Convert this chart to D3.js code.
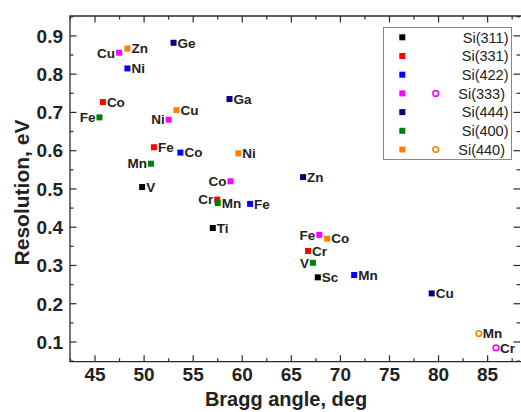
<!DOCTYPE html>
<html>
<head>
<meta charset="utf-8">
<script src="https://cdn.jsdelivr.net/npm/d3@7"></script>
<style>
  html, body { margin: 0; padding: 0; background: #fff; }
  text { font-family: "Liberation Sans", Arial, sans-serif; }
</style>
</head>
<body>
<div id="chart"></div>
<script>
// Resolution vs Bragg angle

// data: [angle (deg), resolution (eV), element]
const si311 = [[49.8, 0.505, "V"], [57.0, 0.398, "Ti"], [67.7, 0.269, "Sc"]];
const si331 = [[45.8, 0.727, "Co"], [51.0, 0.609, "Fe"], [57.45, 0.472, "Cr"], [66.7, 0.338, "Cr"]];
const si422 = [[48.3, 0.815, "Ni"], [53.7, 0.595, "Co"], [60.8, 0.461, "Fe"], [71.4, 0.275, "Mn"]];
const si333 = [[47.45, 0.856, "Cu"], [52.5, 0.681, "Ni"], [58.8, 0.520, "Co"], [67.85, 0.380, "Fe"]];
const si333open = [[85.85, 0.085, "Cr"]];
const si444 = [[53.0, 0.882, "Ge"], [58.7, 0.735, "Ga"], [66.2, 0.531, "Zn"], [79.3, 0.227, "Cu"]];
const si400 = [[45.45, 0.687, "Fe"], [50.7, 0.566, "Mn"], [57.5, 0.463, "Mn"], [67.2, 0.307, "V"]];
const si440 = [[48.3, 0.867, "Zn"], [53.3, 0.706, "Cu"], [59.6, 0.593, "Ni"], [68.65, 0.370, "Co"]];
const si440open = [[84.1, 0.122, "Mn"]];

const seriesNames = ["Si(311)", "Si(331)", "Si(422)", "Si(333)", "Si(444)", "Si(400)", "Si(440)"];
const xTicks = [45, 50, 55, 60, 65, 70, 75, 80, 85];
const yTicks = [0.1, 0.2, 0.3, 0.4, 0.5, 0.6, 0.7, 0.8, 0.9];

const colors = {
  "Si(311)": "#000000",
  "Si(331)": "#ff0000",
  "Si(422)": "#0000ff",
  "Si(333)": "#ff00ff",
  "Si(444)": "#000080",
  "Si(400)": "#008000",
  "Si(440)": "#ff8000",
};

// labels drawn on the left side of their marker
const leftLabels = {
  "Si(333)": ["Cu", "Ni", "Co", "Fe"],
  "Si(400)": ["Fe", "Mn|50.7", "V"],
  "Si(331)": ["Cr|57.45"],
};

const seriesData = [
  { name: "Si(311)", pts: si311, open: [] },
  { name: "Si(331)", pts: si331, open: [] },
  { name: "Si(422)", pts: si422, open: [] },
  { name: "Si(333)", pts: si333, open: si333open },
  { name: "Si(444)", pts: si444, open: [] },
  { name: "Si(400)", pts: si400, open: [] },
  { name: "Si(440)", pts: si440, open: si440open },
];

const W = 521, H = 412;
const plotL = 70, plotT = 16, plotR = 521, plotB = 361.7;

const svg = d3.select("#chart").append("svg")
  .attr("width", W).attr("height", H);

const x = d3.scaleLinear().domain([42.45, 88.4]).range([plotL, plotR]);
const y = d3.scaleLinear().domain([0.0485, 0.952]).range([plotB, plotT]);

const axisColor = "#2a2a2a";
const minorX = d3.range(42.5, 88.5, 2.5);
const minorY = d3.range(0.05, 0.951, 0.05);

// ticks (inward on all four sides)
const frame = svg.append("g");
function tickLen(v, majors) {
  return majors.some(m => Math.abs(m - v) < 1e-6) ? 6.5 : 3.5;
}
minorX.forEach(v => {
  const L = tickLen(v, xTicks);
  frame.append("line").attr("x1", x(v)).attr("x2", x(v))
    .attr("y1", plotB).attr("y2", plotB - L);
  frame.append("line").attr("x1", x(v)).attr("x2", x(v))
    .attr("y1", plotT).attr("y2", plotT + L);
});
minorY.forEach(v => {
  const L = tickLen(v, yTicks);
  frame.append("line").attr("x1", plotL).attr("x2", plotL + L)
    .attr("y1", y(v)).attr("y2", y(v));
  frame.append("line").attr("x1", plotR - 1).attr("x2", plotR - 1 - L)
    .attr("y1", y(v)).attr("y2", y(v));
});
frame.selectAll("line").attr("stroke", axisColor).attr("stroke-width", 1.2);

// frame
frame.append("path")
  .attr("d", `M${plotR},${plotT}H${plotL}V${plotB}H${plotR}`)
  .attr("fill", "none").attr("stroke", axisColor).attr("stroke-width", 1.3);

// tick labels
svg.append("g").selectAll("text").data(xTicks).enter().append("text")
  .attr("x", d => x(d)).attr("y", 381)
  .attr("text-anchor", "middle")
  .attr("font-size", 19).attr("font-weight", "bold").attr("fill", "#222")
  .text(d => d);

svg.append("g").selectAll("text").data(yTicks).enter().append("text")
  .attr("x", 63).attr("y", d => y(d) + 6.8)
  .attr("text-anchor", "end")
  .attr("font-size", 19).attr("font-weight", "bold").attr("fill", "#222")
  .text(d => d3.format(".1f")(d));

// axis titles
svg.append("text")
  .attr("x", 286).attr("y", 406)
  .attr("text-anchor", "middle")
  .attr("font-size", 20).attr("font-weight", "bold").attr("fill", "#222")
  .text("Bragg angle, deg");

svg.append("text")
  .attr("transform", "translate(28.5,192.5) rotate(-90)")
  .attr("text-anchor", "middle")
  .attr("font-size", 21).attr("font-weight", "bold").attr("fill", "#222")
  .text("Resolution, eV");

// points + labels
function isLeft(name, d) {
  const list = leftLabels[name] || [];
  return list.some(k => {
    const parts = k.split("|");
    if (parts[0] !== d[2]) return false;
    return parts.length === 1 || Math.abs(+parts[1] - d[0]) < 0.01;
  });
}

const marks = svg.append("g");
const labels = svg.append("g");
seriesData.forEach(s => {
  const c = colors[s.name];
  marks.selectAll(null).data(s.pts).enter().append("rect")
    .attr("x", d => x(d[0]) - 3).attr("y", d => y(d[1]) - 3)
    .attr("width", 6).attr("height", 6)
    .attr("fill", c);
  marks.selectAll(null).data(s.open).enter().append("circle")
    .attr("cx", d => x(d[0])).attr("cy", d => y(d[1]))
    .attr("r", 2.8)
    .attr("fill", "none").attr("stroke", c).attr("stroke-width", 1.6);
  labels.selectAll(null).data(s.pts.concat(s.open)).enter().append("text")
    .attr("x", d => isLeft(s.name, d) ? x(d[0]) - 4 : x(d[0]) + 4)
    .attr("y", d => y(d[1]) + 4.8)
    .attr("text-anchor", d => isLeft(s.name, d) ? "end" : "start")
    .attr("font-size", 13.5).attr("font-weight", "bold").attr("fill", "#222")
    .text(d => d[2]);
});

// legend
const lg = svg.append("g");
lg.append("rect")
  .attr("x", 383.5).attr("y", 27.5)
  .attr("width", 128).attr("height", 132)
  .attr("fill", "#fff").attr("stroke", "#888").attr("stroke-width", 1);
seriesNames.forEach((n, i) => {
  const ly = 37.3 + i * 18.7;
  const s = seriesData.find(e => e.name === n);
  lg.append("rect")
    .attr("x", 399.3).attr("y", ly - 3)
    .attr("width", 6).attr("height", 6)
    .attr("fill", colors[n]);
  if (s.open.length) {
    lg.append("circle")
      .attr("cx", 435.7).attr("cy", ly)
      .attr("r", 2.8)
      .attr("fill", "none").attr("stroke", colors[n]).attr("stroke-width", 1.6);
  }
  lg.append("text")
    .attr("x", s.open.length ? 505 : 508.5).attr("y", ly + 5.3)
    .attr("text-anchor", "end")
    .attr("font-size", 14.5).attr("fill", "#222")
    .text(n);
});
</script>
</body>
</html>
